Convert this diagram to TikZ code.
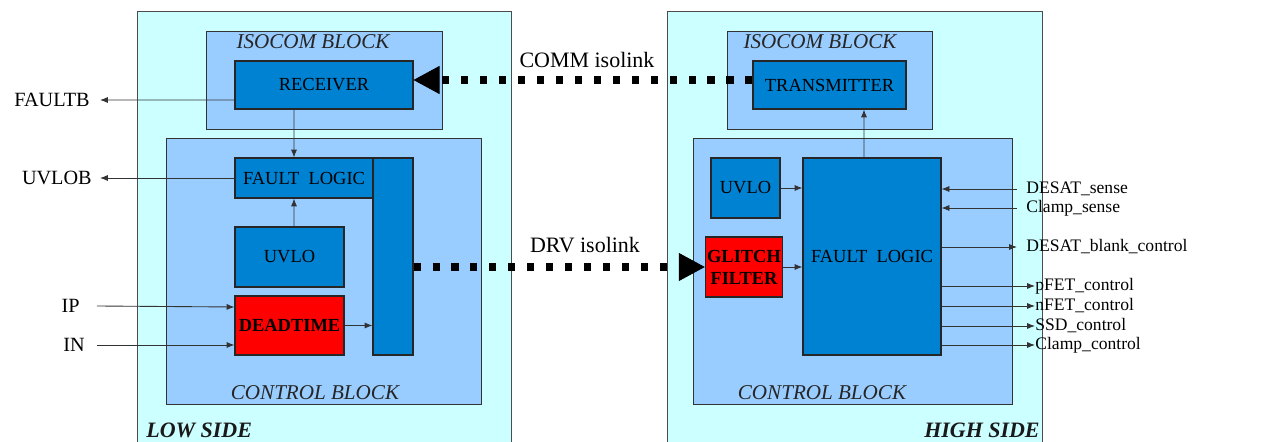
\documentclass[tikz,border=0pt]{standalone}
\usepackage{fontspec}
\setmainfont{Liberation Serif}
\usetikzlibrary{arrows.meta}
\definecolor{sidecol}{HTML}{CCFFFF}
\definecolor{blockcol}{HTML}{99CCFF}
\definecolor{unitcol}{HTML}{0082D2}
\tikzset{
	unit/.style={draw=black!85, fill=unitcol, line width=0.6pt, inner sep=1pt, align=center, font=\fontsize{10.5}{12}\selectfont},
	sig/.style={draw=black!80, line width=0.5pt, -{Latex[length=4.5pt,width=3.5pt]}},
	iso/.style={line width=4pt, dash pattern=on 4pt off 6.8pt, -{Triangle[length=0.52cm,width=0.56cm,line width=0.5pt]}},
	pin/.style={inner sep=0pt, font=\fontsize{11.5}{13}\selectfont},
	pinr/.style={inner sep=0pt, anchor=west, font=\fontsize{10}{11}\selectfont},
	blocktitle/.style={inner sep=0pt, text=black!85, font=\fontsize{12}{13}\selectfont\itshape},
	sidetitle/.style={inner sep=0pt, text=black!90, font=\fontsize{12.5}{13}\selectfont\bfseries\itshape},
}

\begin{document}
\begin{tikzpicture}
		%%%%% START %%%%%
		\clip (0,0) rectangle (25.22,-8.84);
		
		% sides
		\draw[draw=black!70, fill=sidecol] (2.74,-0.22) rectangle (10.22,-9.0);
		\draw[draw=black!70, fill=sidecol] (13.34,-0.22) rectangle (20.84,-9.0);
		
		% blocks
		\draw[draw=black!80, fill=blockcol] (4.12,-0.62) rectangle (8.84,-2.58);
		\draw[draw=black!80, fill=blockcol] (3.32,-2.76) rectangle (9.62,-8.08);
		\draw[draw=black!80, fill=blockcol] (14.54,-0.62) rectangle (18.64,-2.58);
		\draw[draw=black!80, fill=blockcol] (13.86,-2.76) rectangle (20.24,-8.08);
		
		\node[blocktitle] (isoL) at (6.26,-0.84) {ISOCOM BLOCK};
		\node[blocktitle] (isoR) at (16.40,-0.84) {ISOCOM BLOCK};
		\node[blocktitle] (ctrlL) at (6.30,-7.86) {CONTROL BLOCK};
		\node[blocktitle] (ctrlR) at (16.44,-7.86) {CONTROL BLOCK};
		\node[sidetitle, anchor=west] (low) at (2.92,-8.60) {LOW SIDE};
		\node[sidetitle, anchor=east] (high) at (20.80,-8.60) {HIGH SIDE};
		
		% low side units
		\node[unit, minimum width=3.56cm, minimum height=0.96cm] (rx) at (6.48,-1.70) {RECEIVER};
		\node[unit, minimum width=2.76cm, minimum height=0.80cm] (flogL) at (6.08,-3.56) {FAULT\ \ LOGIC};
		\node[unit, minimum width=0.80cm, minimum height=3.94cm] (bar) at (7.86,-5.13) {};
		\node[unit, minimum width=2.18cm, minimum height=1.20cm] (uvloL) at (5.79,-5.14) {UVLO};
		\node[unit, fill=red, minimum width=2.18cm, minimum height=1.18cm] (dead) at (5.79,-6.51) {\bfseries DEADTIME};
		
		% high side units
		\node[unit, minimum width=3.06cm, minimum height=0.96cm] (tx) at (16.59,-1.70) {TRANSMITTER};
		\node[unit, minimum width=1.38cm, minimum height=1.20cm] (uvloR) at (14.91,-3.76) {UVLO};
		\node[unit, minimum width=2.76cm, minimum height=3.94cm] (flogR) at (17.44,-5.13) {FAULT\ \ LOGIC};
		\node[unit, fill=red, minimum width=1.40cm, minimum height=1.20cm, font=\fontsize{10.5}{12.5}\selectfont\bfseries] (glitch) at (14.88,-5.34) {GLITCH\\FILTER};
		
		% pins
		\node[pin, anchor=east] (faultb) at (1.80,-2.00) {FAULTB};
		\node[pin, anchor=east] (uvlob) at (1.84,-3.56) {UVLOB};
		\node[pin, anchor=east] (ipin) at (1.60,-6.12) {IP};
		\node[pin, anchor=east] (inpin) at (1.70,-6.90) {IN};
		
		\node[pinr] (desat) at (20.52,-3.78) {DESAT\_sense};
		\node[pinr] (clamps) at (20.52,-4.16) {Clamp\_sense};
		\node[pinr] (blank) at (20.52,-4.94) {DESAT\_blank\_control};
		\node[pinr] (pfet) at (20.70,-5.72) {pFET\_control};
		\node[pinr] (nfet) at (20.70,-6.12) {nFET\_control};
		\node[pinr] (ssd) at (20.70,-6.52) {SSD\_control};
		\node[pinr] (clampc) at (20.70,-6.90) {Clamp\_control};
		
		% signals
		\draw[sig] ([yshift=-0.30cm]rx.west) -- ([xshift=0.20cm]faultb.east);
		\draw[sig] (flogL.west) -- ([xshift=0.16cm]uvlob.east);
		\draw[sig] ([xshift=-0.60cm]rx.south) -- ([xshift=-0.20cm]flogL.north);
		\draw[sig] ([xshift=0.09cm]uvloL.north) -- ([xshift=-0.20cm]flogL.south);
		\draw[sig] ([xshift=0.34cm]ipin.east) -- ([yshift=0.37cm]dead.west);
		\draw[sig] ([xshift=0.24cm]inpin.east) -- ([yshift=-0.39cm]dead.west);
		\draw[sig] (dead.east) -- (dead.east -| bar.west);
		
		\draw[sig] ([xshift=-0.16cm]flogR.north) -- ([xshift=0.69cm]tx.south);
		\draw[sig] (uvloR.east) -- (uvloR.east -| flogR.west);
		\draw[sig] (glitch.east) -- (glitch.east -| flogR.west);
		\draw[sig] ([xshift=-0.18cm]desat.west) -- (flogR.east |- desat.west);
		\draw[sig] ([xshift=-0.18cm]clamps.west) -- (flogR.east |- clamps.west);
		\draw[sig] (flogR.east |- blank.west) -- ([xshift=-0.18cm]blank.west);
		\foreach \out in {pfet,nfet,ssd,clampc}
			\draw[sig] (flogR.east |- \out.west) -- (\out.west);
		
		% isolinks
		\draw[iso] ([yshift=0.10cm]tx.west) -- ([yshift=0.10cm]rx.east);
		\draw[iso] (bar.east |- glitch.west) -- (glitch.west);
		\node[font=\fontsize{12.5}{13}\selectfont] (comm) at (11.74,-1.20) {COMM isolink};
		\node[font=\fontsize{12.5}{13}\selectfont] (drv) at (11.70,-4.90) {DRV isolink};
		%%%%% END %%%%%
	\end{tikzpicture}
\end{document}
